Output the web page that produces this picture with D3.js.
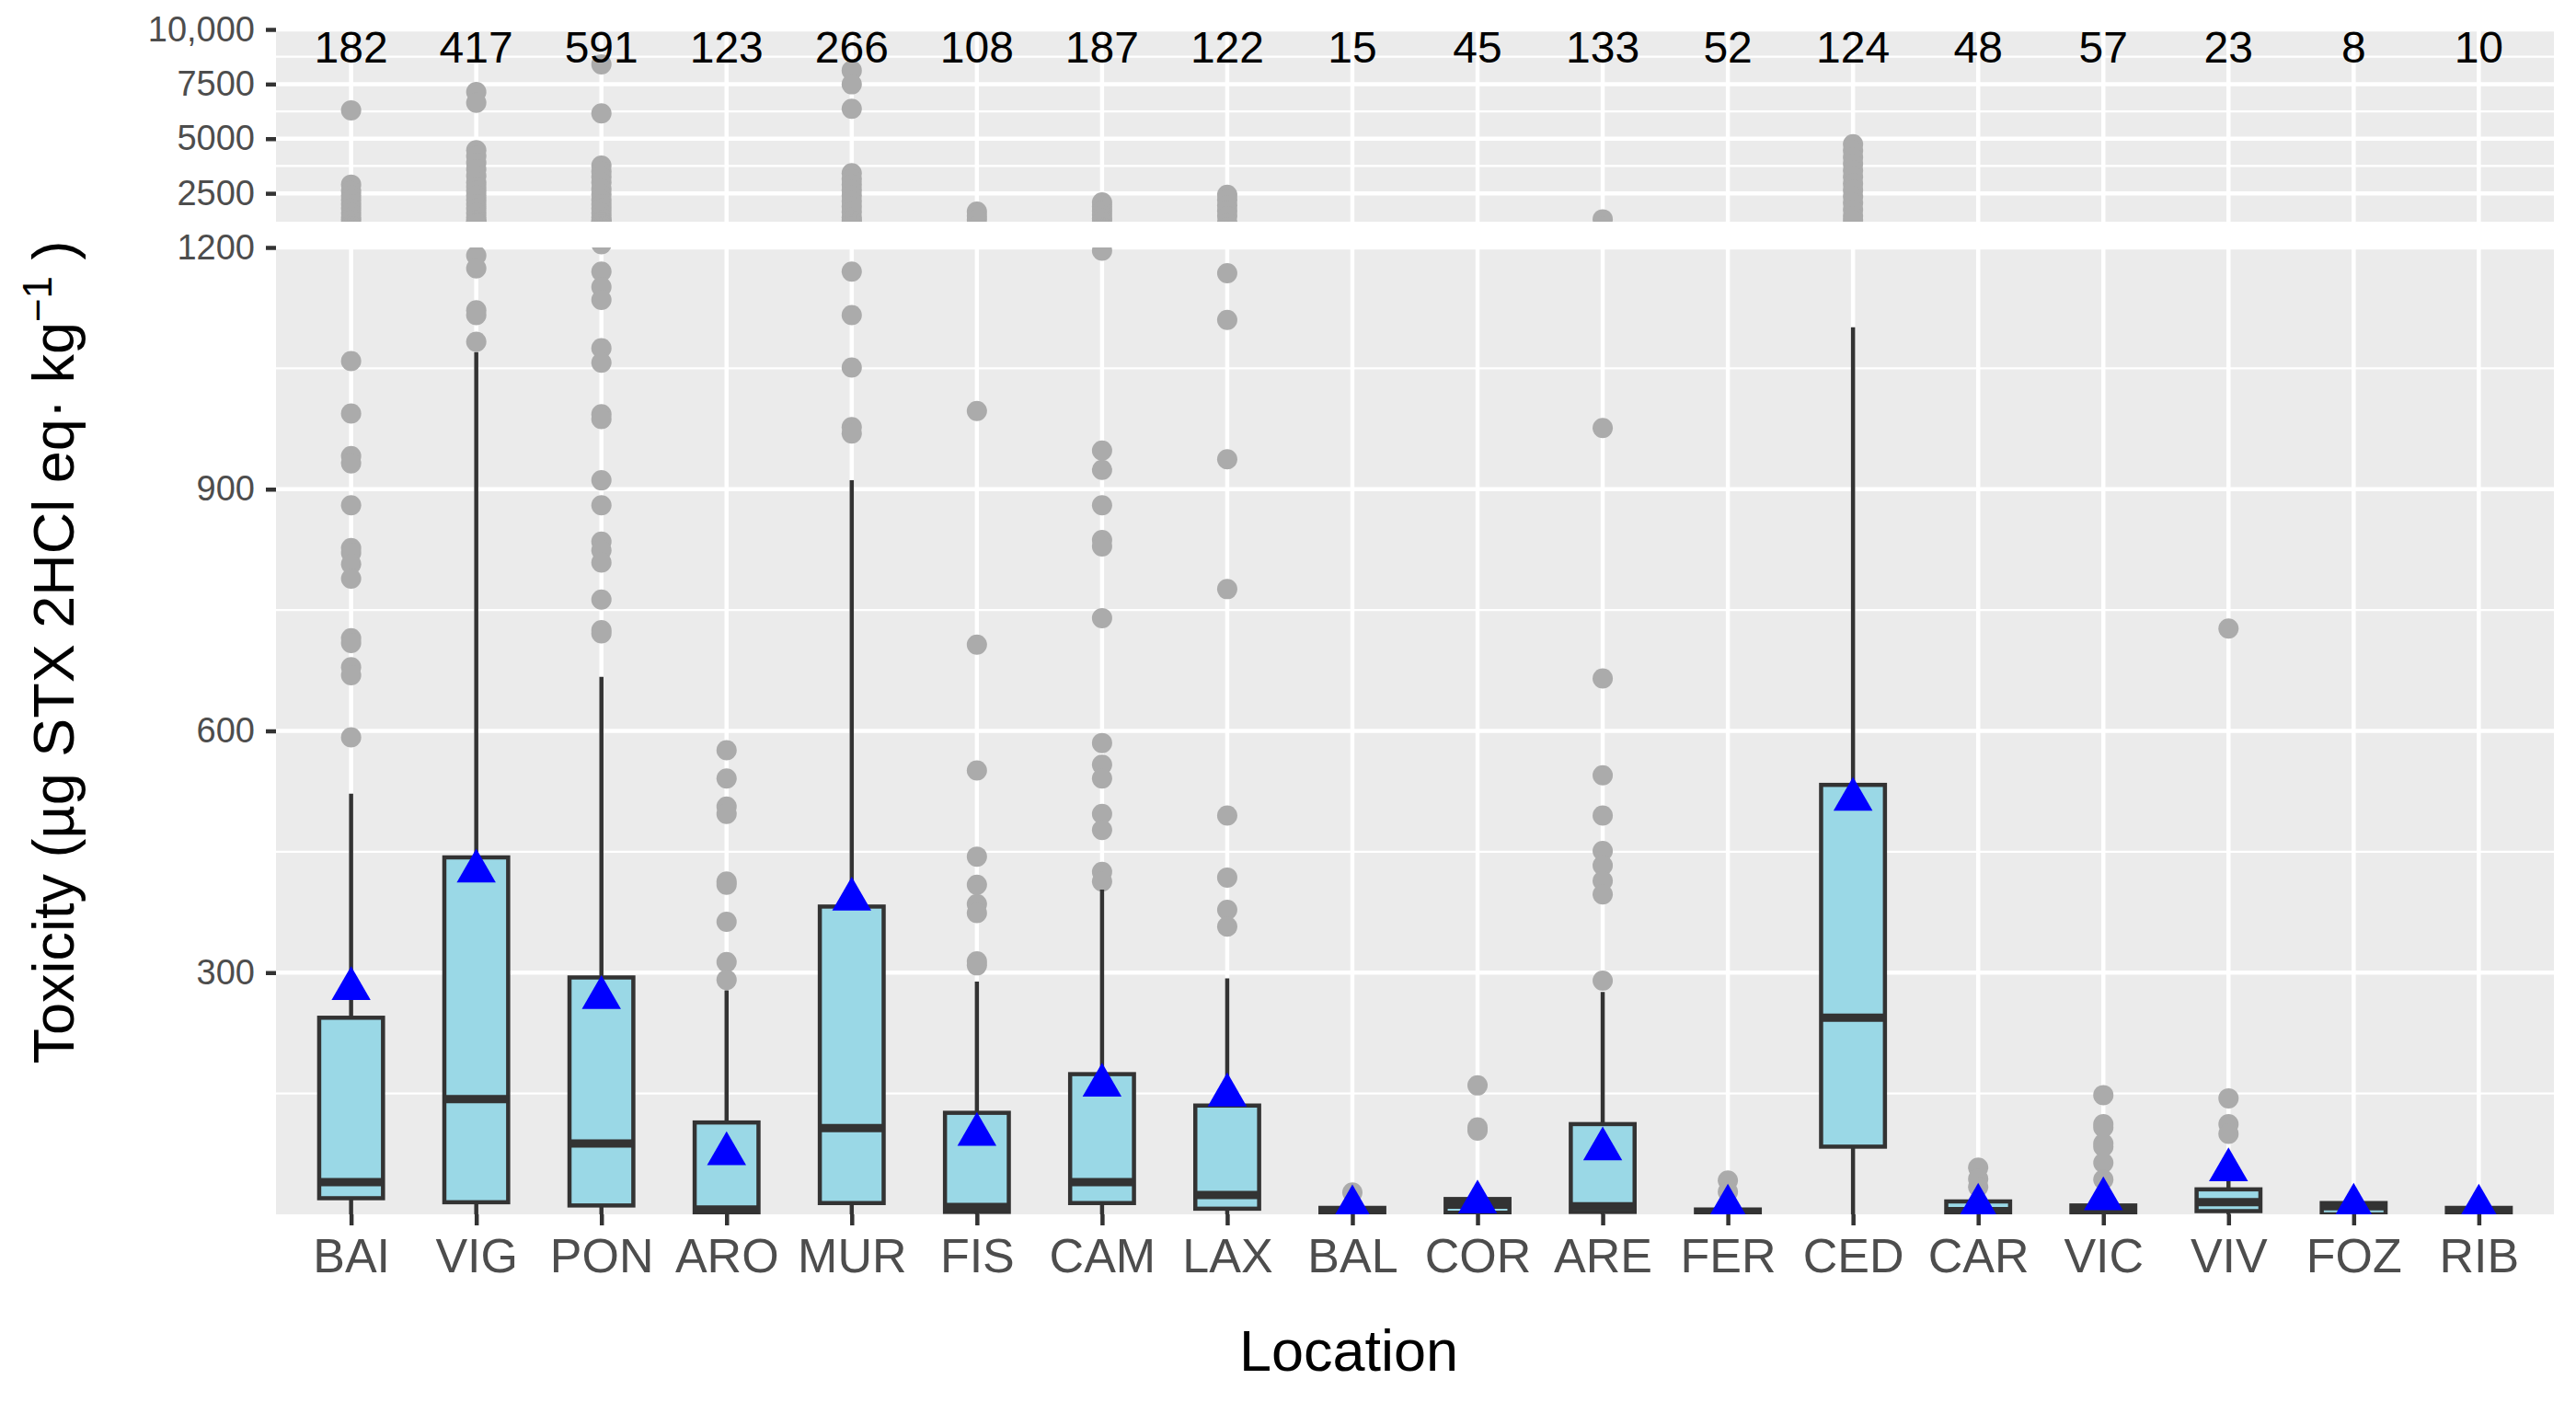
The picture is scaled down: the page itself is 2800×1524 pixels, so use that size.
<!DOCTYPE html>
<html>
<head>
<meta charset="utf-8">
<script src="https://cdn.jsdelivr.net/npm/d3@7"></script>
<style>
  body { margin: 0; background: #fff; }
  text { font-family: "Liberation Sans", Arial, sans-serif; }
</style>
</head>
<body>
<div id="chart"></div>
<script>
// Sampling locations and number of samples per location
const categories = ["BAI", "VIG", "PON", "ARO", "MUR", "FIS", "CAM", "LAX", "BAL",
    "COR", "ARE", "FER", "CED", "CAR", "VIC", "VIV", "FOZ", "RIB"];
const counts = [182, 417, 591, 123, 266, 108, 187, 122, 15, 45, 133, 52, 124, 48, 57, 23, 8, 10];

// Box statistics
const lowerWhisker = [0, 0, 0, 0, 0, 0, 0, 0, 0, 0, 0, 0, 0, 0, 0, 0, 0, 0];
const q1 = [20, 15, 11, 1, 14, 3, 14, 7, 0, 2, 3, 0, 84, 0, 1, 4, 0, 0];
const medians = [40, 143, 88, 6, 107, 9, 40, 24, 3, 12, 10, 2, 244, 4, 5, 15, 10, 4];
const q3 = [244, 443, 294, 114, 382, 126, 174, 135, 8, 19, 112, 6, 533, 16, 11, 31, 14, 8];
const upperWhisker = [522, 1070, 667, 278, 911, 289, 403, 293, 14, 28, 276, 12, 1101, 30, 25, 42, 16, 10];
const means = [280, 426, 269, 75, 391, 99, 160, 148, 9, 15, 81, 10, 515, 11, 19, 55, 11, 10];

const outliers = [
    [6300, 2900, 2600, 2400, 2200, 2000, 1800, 1600, 1400, 1250, 1059, 994, 941, 932, 880, 827, 821, 807, 789, 715, 709, 679, 669, 592],
    [7140, 6640, 4470, 4200, 3900, 3600, 3300, 3000, 2800, 2600, 2400, 2200, 2000, 1800, 1600, 1400, 1250, 1190, 1174, 1122, 1116, 1083],
    [8400, 6160, 3770, 3500, 3250, 3000, 2700, 2450, 2200, 2000, 1800, 1600, 1400, 1250, 1204, 1170, 1151, 1135, 1075, 1057, 993, 987, 911, 880, 835, 824, 809, 763, 725, 721],
    [576, 541, 506, 497, 413, 409, 363, 313, 291],
    [8120, 7490, 6370, 3420, 3150, 2900, 2650, 2400, 2150, 1900, 1650, 1400, 1250, 1170, 1116, 1051, 977, 969],
    [1660, 1450, 1300, 997, 707, 551, 444, 409, 385, 374, 314, 309],
    [2080, 1900, 1700, 1500, 1350, 1196, 948, 924, 880, 837, 829, 740, 585, 558, 541, 497, 477, 425, 413],
    [2430, 2200, 1950, 1700, 1450, 1168, 1110, 937, 776, 495, 418, 378, 357],
    [27],
    [160, 108, 104],
    [1310, 976, 665, 545, 495, 451, 433, 414, 397, 290],
    [42, 28],
    [4750, 4450, 4150, 3850, 3550, 3250, 2950, 2650, 2350, 2050, 1750, 1450, 1250],
    [58, 44, 34],
    [148, 112, 108, 88, 84, 64, 43],
    [727, 144, 112, 100],
    [],
    []
];

// Axis ticks for the two panels of the broken axis
const topTicks = [2500, 5000, 7500, 10000];
const topTickLabels = ["2500", "5000", "7500", "10,000"];
const topMinor = [3750, 6250, 8750];
const bottomTicks = [300, 600, 900, 1200];
const bottomTickLabels = ["300", "600", "900", "1200"];
const bottomMinor = [150, 450, 750, 1050];

const width = 2800;
const height = 1524;
const left = 300;
const right = 2776;

const x = d3.scalePoint()
    .domain(categories)
    .range([left, right])
    .padding(0.6);
const boxW = x.step() * 0.51;

const yTop = d3.scaleLinear().domain([1200, 10000]).range([241, 32]);
const yBot = d3.scaleLinear().domain([0, 1200]).range([1320, 269]);

const svg = d3.select("#chart")
    .append("svg")
    .attr("width", width)
    .attr("height", height)
    .style("background", "#fff");

// panel background, grid and a clipped group for the marks
function panel(y, majors, minors, id) {
    const [yb, yt] = y.range();
    svg.append("clipPath").attr("id", id)
        .append("rect")
        .attr("x", left).attr("y", yt)
        .attr("width", right - left).attr("height", yb - yt);

    svg.append("rect")
        .attr("x", left).attr("y", yt)
        .attr("width", right - left).attr("height", yb - yt)
        .attr("fill", "#EBEBEB");

    svg.append("g").selectAll("line")
        .data(minors)
        .enter().append("line")
        .attr("x1", left).attr("x2", right)
        .attr("y1", d => y(d)).attr("y2", d => y(d))
        .attr("stroke", "#fff")
        .attr("stroke-width", 2.2);

    svg.append("g").selectAll("line")
        .data(majors)
        .enter().append("line")
        .attr("x1", left).attr("x2", right)
        .attr("y1", d => y(d)).attr("y2", d => y(d))
        .attr("stroke", "#fff")
        .attr("stroke-width", 4.5);

    svg.append("g").selectAll("line")
        .data(categories)
        .enter().append("line")
        .attr("x1", d => x(d)).attr("x2", d => x(d))
        .attr("y1", yt).attr("y2", yb)
        .attr("stroke", "#fff")
        .attr("stroke-width", 4.5);

    return svg.append("g").attr("clip-path", `url(#${id})`);
}

const gTop = panel(yTop, topTicks, topMinor, "clipTop");
const gBot = panel(yBot, bottomTicks, bottomMinor, "clipBot");

const points = categories.flatMap((c, i) => outliers[i].map(v => ({ c: c, v: v })));

// outliers in both panels
[[gTop, yTop], [gBot, yBot]].forEach(([g, y]) => {
    g.selectAll("circle.out")
        .data(points)
        .enter().append("circle")
        .attr("class", "out")
        .attr("cx", d => x(d.c))
        .attr("cy", d => y(d.v))
        .attr("r", 11)
        .attr("fill", "#ABABAB");
});

const idx = d3.range(categories.length);

// whiskers
gBot.selectAll("line.wu")
    .data(idx)
    .enter().append("line")
    .attr("x1", i => x(categories[i])).attr("x2", i => x(categories[i]))
    .attr("y1", i => yBot(q3[i])).attr("y2", i => yBot(upperWhisker[i]))
    .attr("stroke", "#333")
    .attr("stroke-width", 4.5);

gBot.selectAll("line.wl")
    .data(idx)
    .enter().append("line")
    .attr("x1", i => x(categories[i])).attr("x2", i => x(categories[i]))
    .attr("y1", i => yBot(q1[i])).attr("y2", i => yBot(lowerWhisker[i]))
    .attr("stroke", "#333")
    .attr("stroke-width", 4.5);

// boxes
gBot.selectAll("rect.box")
    .data(idx)
    .enter().append("rect")
    .attr("x", i => x(categories[i]) - boxW / 2)
    .attr("y", i => yBot(q3[i]))
    .attr("width", boxW)
    .attr("height", i => yBot(q1[i]) - yBot(q3[i]))
    .attr("fill", "#9AD8E6")
    .attr("stroke", "#333")
    .attr("stroke-width", 4.5);

gBot.selectAll("line.med")
    .data(idx)
    .enter().append("line")
    .attr("x1", i => x(categories[i]) - boxW / 2)
    .attr("x2", i => x(categories[i]) + boxW / 2)
    .attr("y1", i => yBot(medians[i])).attr("y2", i => yBot(medians[i]))
    .attr("stroke", "#333")
    .attr("stroke-width", 9);

// means as blue triangles
gBot.selectAll("path.mean")
    .data(idx)
    .enter().append("path")
    .attr("d", d3.symbol(d3.symbolTriangle, 780))
    .attr("transform", i => `translate(${x(categories[i])},${yBot(means[i])})`)
    .attr("fill", "#0000FF");

// sample counts
svg.append("g").selectAll("text")
    .data(idx)
    .enter().append("text")
    .attr("x", i => x(categories[i]))
    .attr("y", 68)
    .attr("text-anchor", "middle")
    .style("font-size", "48px")
    .style("fill", "#000")
    .text(i => counts[i]);

// axes
function styleAxis(g) {
    g.select(".domain").remove();
    g.selectAll(".tick line").attr("stroke", "#333").attr("stroke-width", 4.5);
    g.selectAll(".tick text").attr("fill", "#4D4D4D").style("font-family", "'Liberation Sans', Arial, sans-serif");
}

svg.append("g")
    .attr("transform", `translate(${left},0)`)
    .call(d3.axisLeft(yTop).tickValues(topTicks).tickSize(11).tickPadding(12)
        .tickFormat((d, i) => topTickLabels[i]))
    .call(styleAxis)
    .selectAll(".tick text").style("font-size", "38px");

svg.append("g")
    .attr("transform", `translate(${left},0)`)
    .call(d3.axisLeft(yBot).tickValues(bottomTicks).tickSize(11).tickPadding(12)
        .tickFormat((d, i) => bottomTickLabels[i]))
    .call(styleAxis)
    .selectAll(".tick text").style("font-size", "38px");

svg.append("g")
    .attr("transform", `translate(0,${yBot.range()[0]})`)
    .call(d3.axisBottom(x).tickSize(12).tickPadding(14))
    .call(styleAxis)
    .selectAll(".tick text").style("font-size", "52px");

// axis titles
svg.append("text")
    .attr("x", 1466)
    .attr("y", 1490)
    .attr("text-anchor", "middle")
    .style("font-size", "63px")
    .style("fill", "#000")
    .text("Location");

const yTitle = svg.append("text")
    .attr("transform", "translate(80,709) rotate(-90)")
    .attr("text-anchor", "middle")
    .style("font-size", "63px")
    .style("fill", "#000");
yTitle.append("tspan").text("Toxicity (µg STX 2HCl eq· kg");
yTitle.append("tspan").attr("dy", -24).style("font-size", "44px").text("\u22121");
yTitle.append("tspan").attr("dy", 24).text(" )");
</script>
</body>
</html>
